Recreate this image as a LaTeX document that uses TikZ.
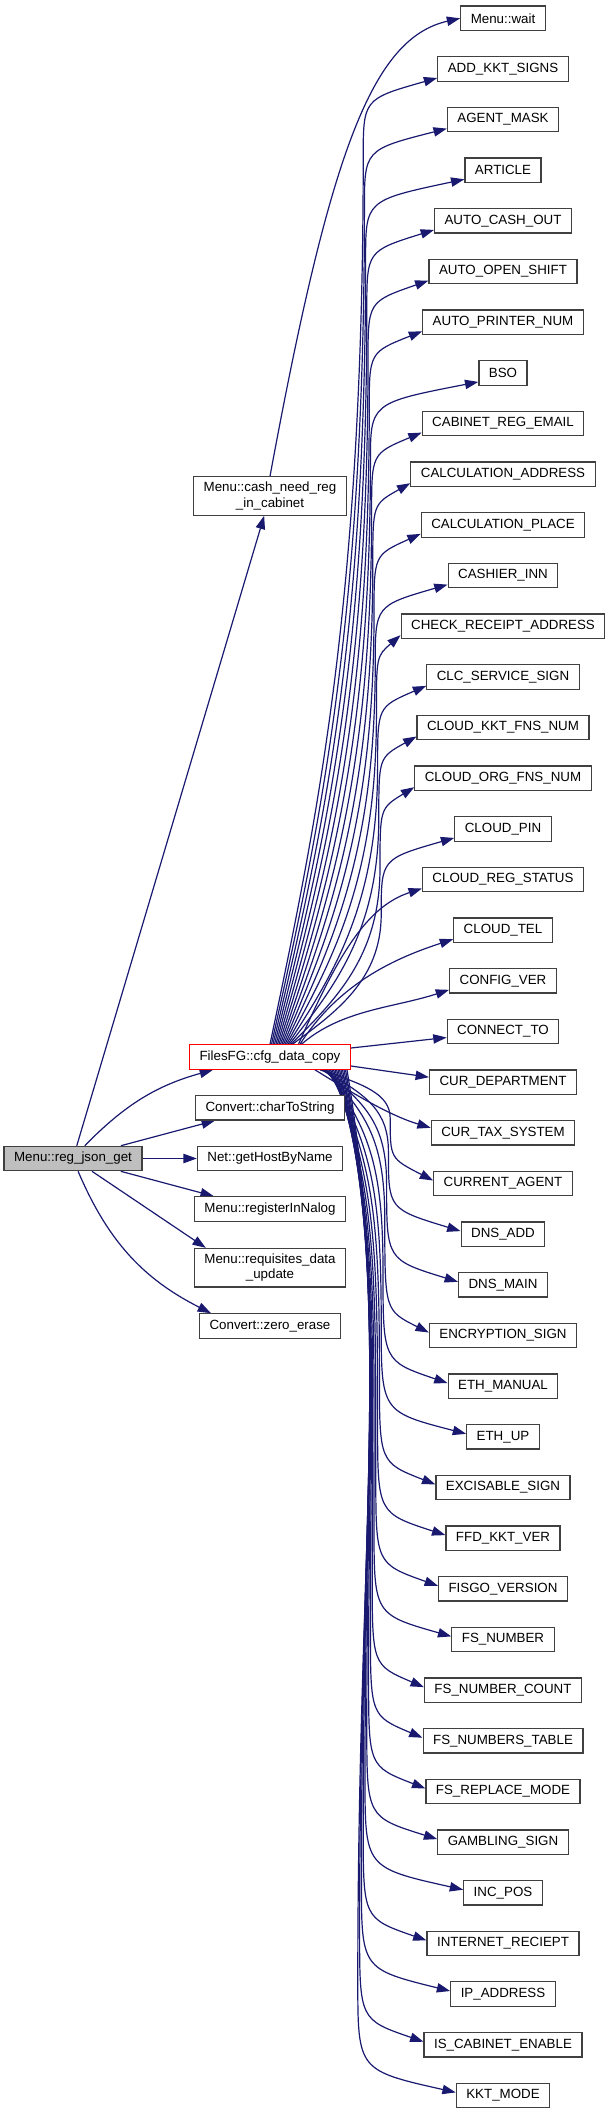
\documentclass[tikz,border=0pt]{standalone}
\usepackage{fontspec}
\setmainfont{Liberation Sans}
\usepackage{tikz}
\usetikzlibrary{arrows.meta,calc,backgrounds}
\definecolor{edgenavy}{HTML}{191970}
\definecolor{boxgrey}{HTML}{404040}
\definecolor{callerfill}{HTML}{BFBFBF}

\begin{document}
\begin{tikzpicture}[x=0.75pt, y=0.75pt, >={Triangle[length=10pt,width=7pt]},
    fn/.style={draw=boxgrey, line width=0.9pt, fill=white, minimum height=18.3pt,
      inner xsep=7.5pt, inner ysep=4pt, align=center,
      font=\fontsize{10}{11.5}\selectfont},
    call/.style={->, draw=edgenavy, line width=0.9pt}]
    \useasboundingbox (0,0) rectangle (613,-2115);

    % caller
    \node[fn, fill=callerfill] (reg) at (73,-1158.5) {Menu::reg\_json\_get};

    % direct calls
    \node[fn] (cash) at (270,-496) {Menu::cash\_need\_reg\\\_in\_cabinet};
    \node[fn, draw=red] (cfg) at (270,-1057) {FilesFG::cfg\_data\_copy};
    \node[fn] (chars) at (270,-1107.8) {Convert::charToString};
    \node[fn] (host) at (270,-1158.5) {Net::getHostByName};
    \node[fn] (nalog) at (270,-1209) {Menu::registerInNalog};
    \node[fn] (req) at (270,-1267.7) {Menu::requisites\_data\\\_update};
    \node[fn] (zero) at (270,-1326) {Convert::zero\_erase};

    % second level
    \node[fn] (wait) at (503,-18.3) {Menu::wait};
    \node[fn] (addkkt) at (503,-69.0) {ADD\_KKT\_SIGNS};
    \node[fn] (agentmask) at (503,-119.6) {AGENT\_MASK};
    \node[fn] (article) at (503,-170.3) {ARTICLE};
    \node[fn] (autocash) at (503,-220.9) {AUTO\_CASH\_OUT};
    \node[fn] (autoshift) at (503,-271.6) {AUTO\_OPEN\_SHIFT};
    \node[fn] (autoprinter) at (503,-322.3) {AUTO\_PRINTER\_NUM};
    \node[fn] (bso) at (503,-372.9) {BSO};
    \node[fn] (cabemail) at (503,-423.6) {CABINET\_REG\_EMAIL};
    \node[fn] (calcaddr) at (503,-474.2) {CALCULATION\_ADDRESS};
    \node[fn] (calcplace) at (503,-524.9) {CALCULATION\_PLACE};
    \node[fn] (cashierinn) at (503,-575.6) {CASHIER\_INN};
    \node[fn] (checkaddr) at (503,-626.2) {CHECK\_RECEIPT\_ADDRESS};
    \node[fn] (clcsign) at (503,-676.9) {CLC\_SERVICE\_SIGN};
    \node[fn] (cloudkkt) at (503,-727.5) {CLOUD\_KKT\_FNS\_NUM};
    \node[fn] (cloudorg) at (503,-778.2) {CLOUD\_ORG\_FNS\_NUM};
    \node[fn] (cloudpin) at (503,-828.9) {CLOUD\_PIN};
    \node[fn] (cloudreg) at (503,-879.5) {CLOUD\_REG\_STATUS};
    \node[fn] (cloudtel) at (503,-930.2) {CLOUD\_TEL};
    \node[fn] (configver) at (503,-980.8) {CONFIG\_VER};
    \node[fn] (connect) at (503,-1031.5) {CONNECT\_TO};
    \node[fn] (curdep) at (503,-1082.2) {CUR\_DEPARTMENT};
    \node[fn] (curtax) at (503,-1132.8) {CUR\_TAX\_SYSTEM};
    \node[fn] (curagent) at (503,-1183.5) {CURRENT\_AGENT};
    \node[fn] (dnsadd) at (503,-1234.1) {DNS\_ADD};
    \node[fn] (dnsmain) at (503,-1284.8) {DNS\_MAIN};
    \node[fn] (encsign) at (503,-1335.5) {ENCRYPTION\_SIGN};
    \node[fn] (ethmanual) at (503,-1386.1) {ETH\_MANUAL};
    \node[fn] (ethup) at (503,-1436.8) {ETH\_UP};
    \node[fn] (excsign) at (503,-1487.4) {EXCISABLE\_SIGN};
    \node[fn] (ffdver) at (503,-1538.1) {FFD\_KKT\_VER};
    \node[fn] (fisgover) at (503,-1588.8) {FISGO\_VERSION};
    \node[fn] (fsnum) at (503,-1639.4) {FS\_NUMBER};
    \node[fn] (fscount) at (503,-1690.1) {FS\_NUMBER\_COUNT};
    \node[fn] (fstable) at (503,-1740.7) {FS\_NUMBERS\_TABLE};
    \node[fn] (fsreplace) at (503,-1791.4) {FS\_REPLACE\_MODE};
    \node[fn] (gambling) at (503,-1842.1) {GAMBLING\_SIGN};
    \node[fn] (incpos) at (503,-1892.7) {INC\_POS};
    \node[fn] (inetreceipt) at (503,-1943.4) {INTERNET\_RECIEPT};
    \node[fn] (ipaddr) at (503,-1994.0) {IP\_ADDRESS};
    \node[fn] (iscabinet) at (503,-2044.7) {IS\_CABINET\_ENABLE};
    \node[fn] (kktmode) at (503,-2095.4) {KKT\_MODE};

    \begin{scope}[on background layer]
    % calls of the caller
    \draw[call] (reg) -- (cash);
    \draw[call] (reg) to[bend left=15] ($(cfg.south west)+(24,0)$);
    \draw[call] (reg) -- ($(chars.south west)+(20,0)$);
    \draw[call] (reg) -- (host);
    \draw[call] (reg) -- ($(nalog.north west)+(20,0)$);
    \draw[call] (reg) -- ($(req.north west)+(12,0)$);
    \draw[call] (reg) to[bend right=20] ($(zero.north west)+(12,0)$);

    \draw[call] (cash.north) .. controls +(60,325) and +(-88,-20) .. (wait.west);

    % short calls of the copy
    \draw[call] ($(cfg.east)+(0,9)$) -- ($(connect.west)+(0,-6)$);
    \draw[call] ($(cfg.east)+(0,-9)$) -- ($(curdep.west)+(0,5)$);
    \draw[call] ($(cfg.south)+(45,0)$) .. controls +(40,-25) and +(-40,12) .. ($(curtax.west)+(0,5)$);

    % calls going far up
    \foreach \tgt [count=\i] in {addkkt,agentmask,article,autocash,autoshift,autoprinter,bso,cabemail,calcaddr,calcplace,cashierinn,checkaddr,clcsign,cloudkkt,cloudorg,cloudpin} {
        \pgfmathsetmacro\sx{270+1.5*\i-1.5}
        \pgfmathsetmacro\ye{18.3+50.66*\i}
        \pgfmathsetmacro\wx{362+1.2*\i}
        \pgfmathsetmacro\wy{\ye+30+min(60,0.3*(1014-\ye))}
        \draw[call] ($(cfg.north)+(\sx-270,0)$)
            .. controls ({(\sx+\wx)/2},{-1044+0.25*(1044-\wy)}) and (\wx,{-\wy-0.5*(1044-\wy)}) .. (\wx,-\wy)
            .. controls (\wx,{-\ye-30}) .. ($(\tgt.west)+(0,-9)$);
    }

    % calls just above
    \foreach \tgt [count=\i from 17] in {cloudreg,cloudtel,configver} {
        \pgfmathsetmacro\ye{18.3+50.66*\i}
        \draw[call] ($(cfg.north)+(1.5*\i+3,0)$)
            .. controls +(40,{0.55*(1044-\ye)}) and +(-55,-18) .. ($(\tgt.west)+(0,-9)$);
    }

    % calls going down
    \foreach \tgt [count=\j] in {curagent,dnsadd,dnsmain,encsign,ethmanual,ethup,excsign,ffdver,fisgover,fsnum,fscount,fstable,fsreplace,gambling,incpos,inetreceipt,ipaddr,iscabinet,kktmode} {
        \pgfmathsetmacro\sx{320+1.5*\j-1.5}
        \pgfmathsetmacro\ye{18.3+50.66*(\j+22)}
        \pgfmathsetmacro\wx{392-1.8*\j}
        \pgfmathsetmacro\wy{\ye-25-min(90,0.35*(\ye-1069))}
        \draw[call] ($(cfg.south)+(\sx-270,0)$)
            .. controls ({\sx+45},{-1070-0.3*(\wy-1070)}) and (\wx,{-\wy+0.5*(\wy-1070)}) .. (\wx,-\wy)
            .. controls (\wx,{-\ye+25}) .. ($(\tgt.west)+(0,3)$);
    }
    \end{scope}
\end{tikzpicture}
\end{document}
